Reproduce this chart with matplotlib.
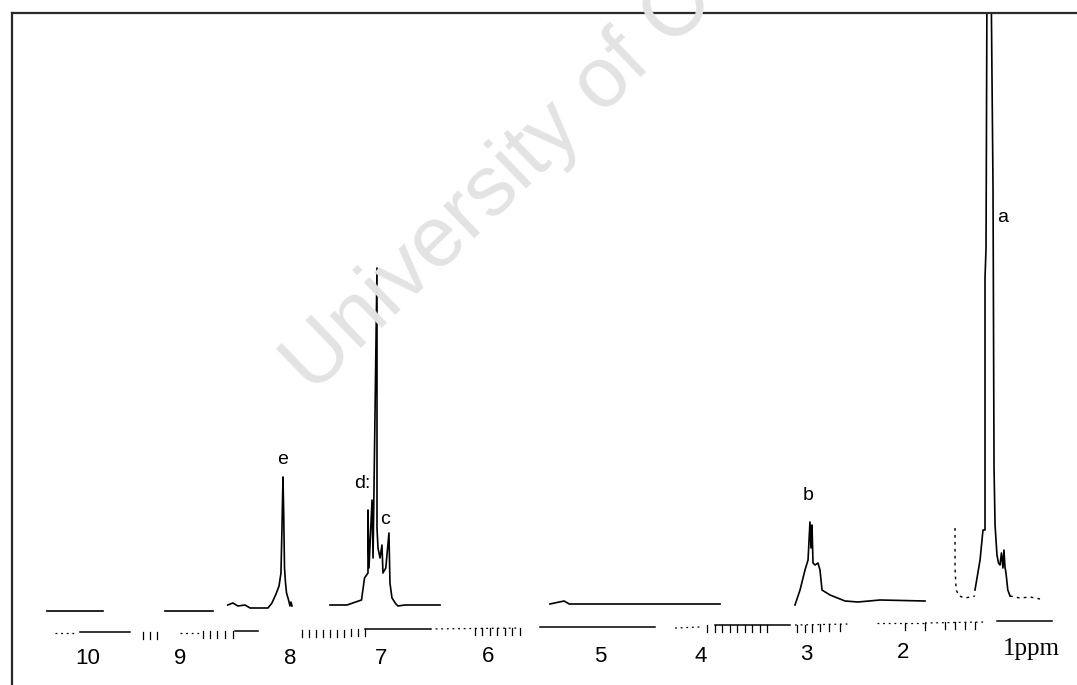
import numpy as np
import matplotlib
matplotlib.use("Agg")
import matplotlib.pyplot as plt

# ---------------- data (ppm, intensity above baseline) ----------------
# spectrum trace, pieces separated by gaps (NaN)
trace_ppm = [10.405, 9.852, np.nan,
             9.24, 8.766, np.nan,
             8.62, 8.57, 8.52, 8.45, 8.40, 8.223, 8.184, 8.144, 8.114, 8.095, 8.085,
             8.075, 8.068, 8.060, 8.050, 8.040, 8.020, 8.006, 7.996, 7.986, np.nan,
             7.611, 7.443, 7.30, 7.27, 7.236, 7.236, 7.226, 7.196, 7.186, 7.147,
             7.147, 7.137, 7.117, 7.098, 7.088, 7.06, 7.029, 7.019, 6.999, 6.96,
             6.94, 6.871, 6.525, np.nan,
             5.44, 5.30, 5.25, 5.15, 3.761, np.nan,
             3.021, 2.971, 2.922, 2.892, 2.873, 2.863, 2.853, 2.843, 2.823, 2.794,
             2.774, 2.754, 2.675, 2.527, 2.40, 2.182, 1.737, np.nan,
             1.244, 1.194, 1.165, 1.145, 1.145, 1.135, 1.125, 1.086, 1.066, 1.056,
             1.046, 1.027, 1.012, 0.997, 0.983, 0.968, 0.958, 0.948, 0.938, 0.92,
             0.898]
trace_int = [-3, -3, np.nan,
             -3, -3, np.nan,
             3, 5, 2, 3, 0, 0, 5, 14, 22, 35, 80,
             131, 95, 40, 25, 15, 8, 2, 6, 2, np.nan,
             3, 3, 8, 30, 35, 98, 40, 108, 50, 340,
             80, 60, 50, 63, 35, 40, 75, 25, 10, 4,
             2, 3, 3, np.nan,
             4, 7, 4, 4, 4, np.nan,
             3, 18, 38, 48, 86, 60, 83, 45, 43, 45,
             38, 18, 13, 7, 6, 8, 7, np.nan,
             18, 48, 78, 78, 330, 360, 640, 640, 420, 140,
             83, 53, 45, 43, 55, 40, 58, 41, 35, 18,
             12]

# dotted shoulder / tail around peak a
dot_ppm = [1.441, 1.441, 1.43, 1.40, 1.343, 1.244, np.nan, 0.898, 0.85, 0.80, 0.70, 0.602]
dot_int = [80, 40, 18, 12, 10, 12, np.nan, 12, 11, 10, 11, 9]

# peak labels
peak_labels = ["a", "b", "c", "d:", "e"]
label_ppm = [0.975, 2.892, 7.068, 7.29, 8.075]
label_int = [391, 113, 88, 125, 148]

# ruler (ppm scale) solid/dotted segments
ruler_solid = [((10.079, -24), (9.585, -24)), ((8.549, -23), (8.322, -23)),
               ((7.266, -21), (6.624, -21)), ((5.538, -19), (4.403, -19)),
               ((3.81, -17), (3.07, -17)), ((1.027, -13), (0.484, -13))]
ruler_dotted = [((10.326, -25), (10.128, -25)), ((9.092, -25), (8.894, -25)),
                ((6.624, -21), (5.735, -20)), ((4.205, -20), (3.958, -19)),
                ((3.021, -17), (2.478, -16)), ((2.211, -15), (1.737, -15)),
                ((1.737, -15), (1.145, -14))]
tick_ppm = [9.457, 9.388, 9.319, 8.865, 8.796, 8.727, 8.648, 8.569,
            7.887, 7.818, 7.749, 7.68, 7.611, 7.542, 7.473, 7.404, 7.335, 7.266,
            6.18, 6.11, 6.03, 5.96, 5.88, 5.81, 5.735,
            3.889, 3.81, 3.74, 3.66, 3.59, 3.51, 3.45, 3.37, 3.297,
            3.0, 2.92, 2.85, 2.77, 2.69, 2.58,
            1.935, 1.737, 1.54, 1.44, 1.34, 1.244]
tick_base = [-24, -24, -24, -23, -23, -23, -23, -23,
             -22, -22, -22, -22, -22, -22, -22, -21, -21, -21,
             -20, -20, -20, -20, -20, -20, -20,
             -17, -17, -17, -17, -17, -17, -17, -17, -17,
             -17, -17, -17, -16, -16, -16,
             -15, -15, -14, -14, -14, -14]

# axis number labels (as positioned on the scan)
axis_labels = ["10", "9", "8", "7", "6", "5", "4", "3", "2", "1ppm"]
axis_label_ppm = [10.0, 9.09, 8.0, 7.11, 6.05, 4.94, 3.95, 2.91, 1.95, 0.69]
axis_label_int = [-50, -51, -51, -50, -48, -48, -49, -47, -44, -41]

# ---------------- figure ----------------
fig = plt.figure(figsize=(10.77, 6.85), dpi=100)
fig.patch.set_facecolor("white")

# watermark
fig.text(312 / 1077, 1 - 395 / 685, "University of Cape Town", fontsize=62,
         color="#e3e3e3", rotation=44, rotation_mode="anchor",
         ha="left", va="baseline", family=["Liberation Sans", "DejaVu Sans"],
         zorder=0)

ax = fig.add_axes([12 / 1077, 0, 1 - 12 / 1077, (685 - 13) / 685])
ax.set_facecolor("none")
ax.set_xlim(10.75, 0.237)
ax.set_ylim(-77, 595)
for s in ["bottom", "right"]:
    ax.spines[s].set_visible(False)
for s in ["left", "top"]:
    ax.spines[s].set_linewidth(1.6)
    ax.spines[s].set_color("#2a2a2a")
ax.set_xticks([])
ax.set_yticks([])

ax.plot(trace_ppm, trace_int, color="black", lw=1.2, clip_on=True)
ax.plot(dot_ppm, dot_int, color="black", lw=1.0, ls=(0, (2, 3)))

for t, x, y in zip(peak_labels, label_ppm, label_int):
    ax.text(x, y, t, ha="center", va="center", fontsize=14,
            family=["Liberation Sans Narrow", "Liberation Sans", "DejaVu Sans"])

for (p0, p1) in ruler_solid:
    ax.plot([p0[0], p1[0]], [p0[1], p1[1]], color="black", lw=1.1)
for (p0, p1) in ruler_dotted:
    ax.plot([p0[0], p1[0]], [p0[1], p1[1]], color="black", lw=0.9, ls=(0, (1.5, 3)))
for x, b in zip(tick_ppm, tick_base):
    ax.plot([x, x], [b, b - 7], color="black", lw=0.9)

for t, x, y in zip(axis_labels, axis_label_ppm, axis_label_int):
    if "ppm" in t:
        ax.text(x, y, t, ha="center", va="center", fontsize=18,
                family=["Liberation Serif", "DejaVu Serif"])
    else:
        ax.text(x, y, t, ha="center", va="center", fontsize=16,
                family=["Liberation Sans Narrow", "Liberation Sans", "DejaVu Sans"])

fig.savefig("out.png", dpi=100)
